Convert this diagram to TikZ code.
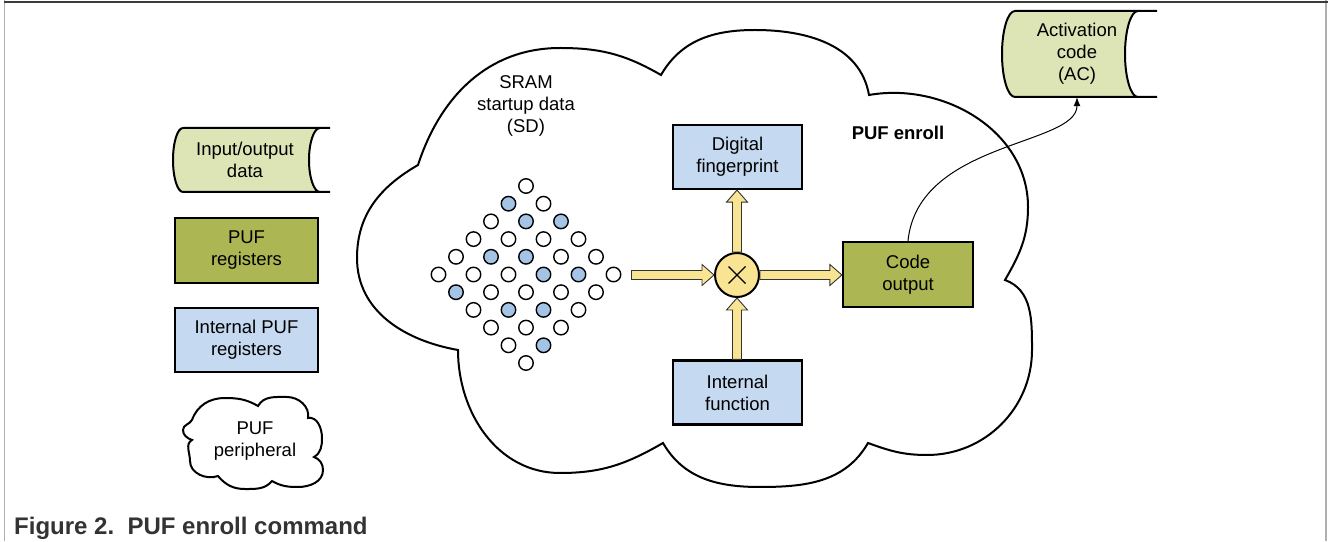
\documentclass[tikz,border=0pt]{standalone}
\usepackage{fontspec}
\setmainfont{Liberation Sans}
\usetikzlibrary{calc,arrows.meta}
\definecolor{iofill}{RGB}{221,229,183}
\definecolor{regfill}{RGB}{172,183,84}
\definecolor{intfill}{RGB}{197,217,240}
\definecolor{dotfill}{RGB}{164,196,230}
\definecolor{yel}{RGB}{249,228,148}
\definecolor{framecol}{RGB}{60,60,60}
\definecolor{sidecol}{RGB}{175,175,175}
\definecolor{capcol}{RGB}{51,51,51}
\begin{document}
\begin{tikzpicture}[x=1pt,y=1pt,
  every node/.style={font=\fontsize{18.5}{22}\selectfont, align=center, inner sep=0pt},
  regbox/.style={draw=black, line width=2.2pt, fill=regfill, minimum width=130pt, minimum height=65pt},
  intbox/.style={draw=black, line width=2.2pt, fill=intfill, minimum width=129pt, minimum height=64pt},
  dot/.style={circle, draw=black, line width=1.4pt, fill=white, minimum size=14.5pt},
  bluedot/.style={dot, fill=dotfill},
  fat/.style={draw=black!80, line width=0.9pt, fill=yel},
  cloudline/.style={draw=black, line width=2pt, fill=white},
  cyl/.style={draw=black, line width=2pt},
]
\useasboundingbox (0,0) rectangle (1328,541);
\fill[white] (0,0) rectangle (1328,541);
% frame
\draw[sidecol, line width=1.5pt] (4.5,541) -- (4.5,0);
\draw[sidecol, line width=1.5pt] (1326,541) -- (1326,0);
\draw[framecol, line width=2pt] (4,539) -- (1328,539);

% main cloud
\draw[cloudline] (418,376) to[out=72,in=180] (560,493) to[out=0,in=150] (661,466)
  to[out=60,in=180] (755,511) to[out=0,in=100] (869,446)
  to[out=10,in=90] (1028,334) to[out=-90,in=60] (1005,261)
  to[out=-20,in=90] (1032,191) to[out=-90,in=0] (927,86) to[out=180,in=-20] (868,98)
  to[out=-120,in=0] (760,54) to[out=180,in=-60] (663,98)
  to[out=-150,in=0] (560,68) to[out=180,in=-90] (458,191)
  to[out=170,in=-90] (357,283) to[out=90,in=-150] (418,376) -- cycle;

% SRAM dots
\foreach \i/\j/\s in {0/0/dot,0/1/bluedot,0/2/dot,0/3/dot,0/4/dot,0/5/dot,
  1/0/dot,1/1/bluedot,1/2/dot,1/3/bluedot,1/4/dot,1/5/bluedot,
  2/0/bluedot,2/1/dot,2/2/bluedot,2/3/dot,2/4/dot,2/5/dot,
  3/0/dot,3/1/dot,3/2/bluedot,3/3/dot,3/4/bluedot,3/5/dot,
  4/0/dot,4/1/bluedot,4/2/dot,4/3/bluedot,4/4/dot,4/5/dot,
  5/0/dot,5/1/dot,5/2/dot,5/3/dot,5/4/bluedot,5/5/dot}
  \node[\s] (c-\i-\j) at ({526+(\i-\j)*17.5},{355-(\i+\j)*17.7}) {};
\node (sram) at (526,435) {SRAM\\startup data\\(SD)};

% multiplier and boxes
\node[circle, draw=black, line width=2pt, fill=yel, minimum size=44pt] (mul) at (737,266) {};
\draw[line width=1.3pt] ($(mul.center)+(-8.5,-8.5)$) -- ($(mul.center)+(8.5,8.5)$)
  ($(mul.center)+(-8.5,8.5)$) -- ($(mul.center)+(8.5,-8.5)$);
\node[intbox] (fp) at (737.5,384) {Digital\\fingerprint};
\node[intbox] (intf) at (737.5,148.5) {Internal\\function};
\node[regbox] (code) at (908,266.5) {Code\\output};
\node[font=\fontsize{18.5}{22}\selectfont\bfseries] (enroll) at (898,408) {PUF enroll};

% fat arrows
\draw[fat] let \p1=($(c-5-0.east)+(10pt,0)$), \p2=(mul.west) in
  (\x1,\y2-4.5pt) -- (\x2-12pt,\y2-4.5pt) -- (\x2-12pt,\y2-10.5pt) -- (\x2,\y2)
  -- (\x2-12pt,\y2+10.5pt) -- (\x2-12pt,\y2+4.5pt) -- (\x1,\y2+4.5pt) -- cycle;
\draw[fat] let \p1=(mul.east), \p2=(code.west) in
  (\x1,\y1-4.5pt) -- (\x2-12pt,\y1-4.5pt) -- (\x2-12pt,\y1-10.5pt) -- (\x2,\y1)
  -- (\x2-12pt,\y1+10.5pt) -- (\x2-12pt,\y1+4.5pt) -- (\x1,\y1+4.5pt) -- cycle;
\draw[fat] let \p1=(mul.north), \p2=(fp.south) in
  (\x1-4.5pt,\y1) -- (\x1-4.5pt,\y2-12pt) -- (\x1-10.5pt,\y2-12pt) -- (\x1,\y2)
  -- (\x1+10.5pt,\y2-12pt) -- (\x1+4.5pt,\y2-12pt) -- (\x1+4.5pt,\y1) -- cycle;
\draw[fat] let \p1=(intf.north), \p2=(mul.south) in
  (\x2-4.5pt,\y1) -- (\x2-4.5pt,\y2-12pt) -- (\x2-10.5pt,\y2-12pt) -- (\x2,\y2)
  -- (\x2+10.5pt,\y2-12pt) -- (\x2+4.5pt,\y2-12pt) -- (\x2+4.5pt,\y1) -- cycle;

% activation code (stored data)
\path[fill=iofill] (1015,530) -- (1138,530) arc[start angle=90,end angle=270,x radius=13,y radius=43]
  -- (1015,444) arc[start angle=270,end angle=90,x radius=13,y radius=43] -- cycle;
\draw[cyl] (1015,530) -- (1157,530) (1015,444) -- (1157,444)
  (1015,530) arc[start angle=90,end angle=270,x radius=13,y radius=43]
  (1138,530) arc[start angle=90,end angle=270,x radius=13,y radius=43];
\node[minimum width=123pt, minimum height=86pt] (ac) at (1077,487) {Activation\\code\\(AC)};
\draw[line width=1pt, -{Latex[length=9pt,width=7pt]}] (code.north) .. controls (918,400) and (1077,395) .. (ac.south);

% legend: input/output
\path[fill=iofill] (183,413) -- (320,413) arc[start angle=90,end angle=270,x radius=11,y radius=32]
  -- (183,349) arc[start angle=270,end angle=90,x radius=10,y radius=32] -- cycle;
\draw[cyl] (183,413) -- (330,413) (183,349) -- (330,349)
  (183,413) arc[start angle=90,end angle=270,x radius=10,y radius=32]
  (320,413) arc[start angle=90,end angle=270,x radius=11,y radius=32];
\node (io) at (245,381) {Input/output\\data};
\node[regbox, minimum width=143pt] (lreg) at (246.5,290.5) {PUF\\registers};
\node[intbox, minimum width=143pt] (lint) at (246.5,201) {Internal PUF\\registers};

% legend: small cloud
\draw[cloudline] (192,121) to[out=70,in=180] (225,143) to[out=0,in=150] (258,135)
  to[out=60,in=180] (287,144) to[out=0,in=80] (308,123)
  to[out=10,in=90] (322,103) to[out=-90,in=30] (314,84)
  to[out=-20,in=90] (323,71) to[out=-90,in=0] (298,54) to[out=180,in=-30] (272,60)
  to[out=-130,in=0] (245,52) to[out=180,in=-50] (218,65)
  to[out=-160,in=-90] (190,80) to[out=90,in=-150] (192,101)
  to[out=160,in=-90] (183,111) to[out=90,in=-120] (192,121) -- cycle;
\node (pp) at (255,99.5) {PUF\\peripheral};

% caption
\node[anchor=base west, font=\fontsize{24}{28}\selectfont\bfseries, text=capcol] (cap) at (14,7) {Figure 2.\ \ PUF enroll command};
\end{tikzpicture}
\end{document}
